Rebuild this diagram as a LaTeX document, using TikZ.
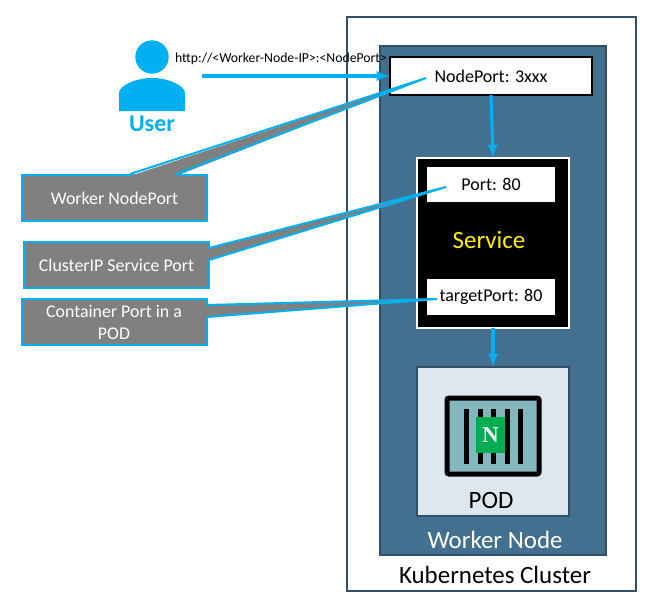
\documentclass[tikz,border=0pt]{standalone}
\usepackage{fontspec}
\setmainfont{Carlito}
\newfontfamily\nginxfont{Liberation Serif}
\usepackage{xcolor}
\usetikzlibrary{
    calc,
    positioning
}
\definecolor{linkblue}{HTML}{00B0F0}
\definecolor{nodeblue}{HTML}{44708F}
\definecolor{edgeblue}{HTML}{2F5068}
\definecolor{podfill}{HTML}{DEE7EE}
\definecolor{boxfill}{HTML}{84B8BE}
\definecolor{nginxgreen}{HTML}{00AC50}
\tikzset{
    plainbox/.style={rectangle, inner sep=0pt, outer sep=0pt},
    portbox/.style={plainbox, fill=white, text=black, font=\fontsize{13.5}{16}\selectfont},
    notebox/.style={plainbox, draw=linkblue, line width=1.5pt, fill=gray, text=white,
        minimum width=138.75pt, minimum height=34.5pt, align=center,
        font=\fontsize{13.4}{16.5}\selectfont},
    notetext/.style={plainbox, text=white, align=center, font=\fontsize{13.4}{16.5}\selectfont},
    link/.style={draw=linkblue, line width=2.4pt, -latex},
    caption/.style={plainbox, text=black, font=\fontsize{18.7}{22}\selectfont}
}
\begin{document}
\begin{tikzpicture}[x=0.75pt, y=-0.75pt]
    \useasboundingbox (0, 0) rectangle (649, 600);
    \node[plainbox, draw=edgeblue, line width=1.1pt, fill=white, minimum width=216.75pt, minimum height=430.5pt] (cluster) at (491.5, 304) {};
    \node[plainbox, draw=edgeblue, line width=1.1pt, fill=nodeblue, minimum width=169.5pt, minimum height=381.75pt] (worker) at (493, 300.5) {};
    \node[caption] (clusterlabel) at (495, 575) {Kubernetes Cluster};
    \node[caption, text=white] (workerlabel) at (495, 540) {Worker Node};

    \node[portbox, draw=black, line width=1.5pt, minimum width=151.5pt, minimum height=28.5pt] (nodeport) at (491, 76) {NodePort: 3xxx};
    \node[plainbox, draw=white, line width=1pt, fill=black, minimum width=114pt, minimum height=127.5pt] (service) at (493, 243) {};
    \node[portbox, minimum width=96pt, minimum height=26.25pt] (port) at (491, 184.5) {Port: 80};
    \node[portbox, minimum width=96pt, minimum height=27pt] (target) at (491, 297) {targetPort: 80};
    \node[plainbox, text=yellow, font=\fontsize{18.7}{22}\selectfont] (servicelabel) at (489, 240) {Service};

    \node[plainbox, draw=edgeblue, line width=1pt, fill=podfill, minimum width=114pt, minimum height=111.75pt] (pod) at (493, 441.5) {};
    \node[caption] (podlabel) at (491, 500) {POD};
    \node[plainbox, draw=black, line width=3.75pt, rounded corners=1.5pt, fill=boxfill, minimum width=69pt, minimum height=57pt] (container) at (493, 436) {};
    \foreach \barx in {466, 480, 493, 507, 520} {
        \fill[black] (\barx-2.5, 409) rectangle (\barx+2.5, 464);
    }
    \node[plainbox, fill=nginxgreen, text=white, minimum width=21.75pt, minimum height=27pt, font=\nginxfont\fontsize{17}{17}\selectfont\bfseries] (nginx) at (490.5, 435) {N};

    \fill[linkblue] (152, 57) circle (16.7);
    \fill[linkblue] (119, 111) -- (119, 93) .. controls (119, 86) and (135, 78) .. (152, 78) .. controls (169, 78) and (185, 86) .. (185, 93) -- (185, 111) -- cycle;
    \node[plainbox, text=linkblue, font=\fontsize{18}{20}\selectfont\bfseries] (user) at (152, 124) {User};
    \node[plainbox, font=\fontsize{10.3}{12}\selectfont] (url) at (281, 59) {http://<Worker-Node-IP>:<NodePort>};

    \coordinate (userout) at (202, 76);
    \draw[link] (userout) -- (nodeport.west);
    \draw[link] (nodeport.south) -- (service.north);
    \draw[link] (service.south) -- (pod.north);

    \node[notebox] (workernote) at (114, 197.5) {};
    \node[notebox] (clusternote) at (116.5, 264.5) {};
    \node[notebox] (containernote) at (114, 321.5) {};
    \node[notetext] (workertext) at (114.5, 198.5) {Worker NodePort};
    \node[notetext] (clustertext) at (116.5, 265.5) {ClusterIP Service Port};
    \node[notetext] (containertext) at (114, 322.5) {Container Port in a\\POD};

    \coordinate (workertip) at (426, 78);
    \coordinate (clustertip) at (446, 187);
    \coordinate (containertip) at (437, 299);

    \fill[gray] (130, 176) -- (workertip) -- (176, 176) -- cycle;
    \draw[linkblue, line width=1.5pt] (130, 174) -- (workertip) -- (176, 174);
    \fill[gray] (207, 248) -- (clustertip) -- (207, 260) -- cycle;
    \draw[linkblue, line width=1.5pt] (209, 248) -- (clustertip) -- (209, 260);
    \fill[gray] (205, 305) -- (containertip) -- (205, 317) -- cycle;
    \draw[linkblue, line width=1.5pt] (207, 305) -- (containertip) -- (207, 317);
\end{tikzpicture}
\end{document}
